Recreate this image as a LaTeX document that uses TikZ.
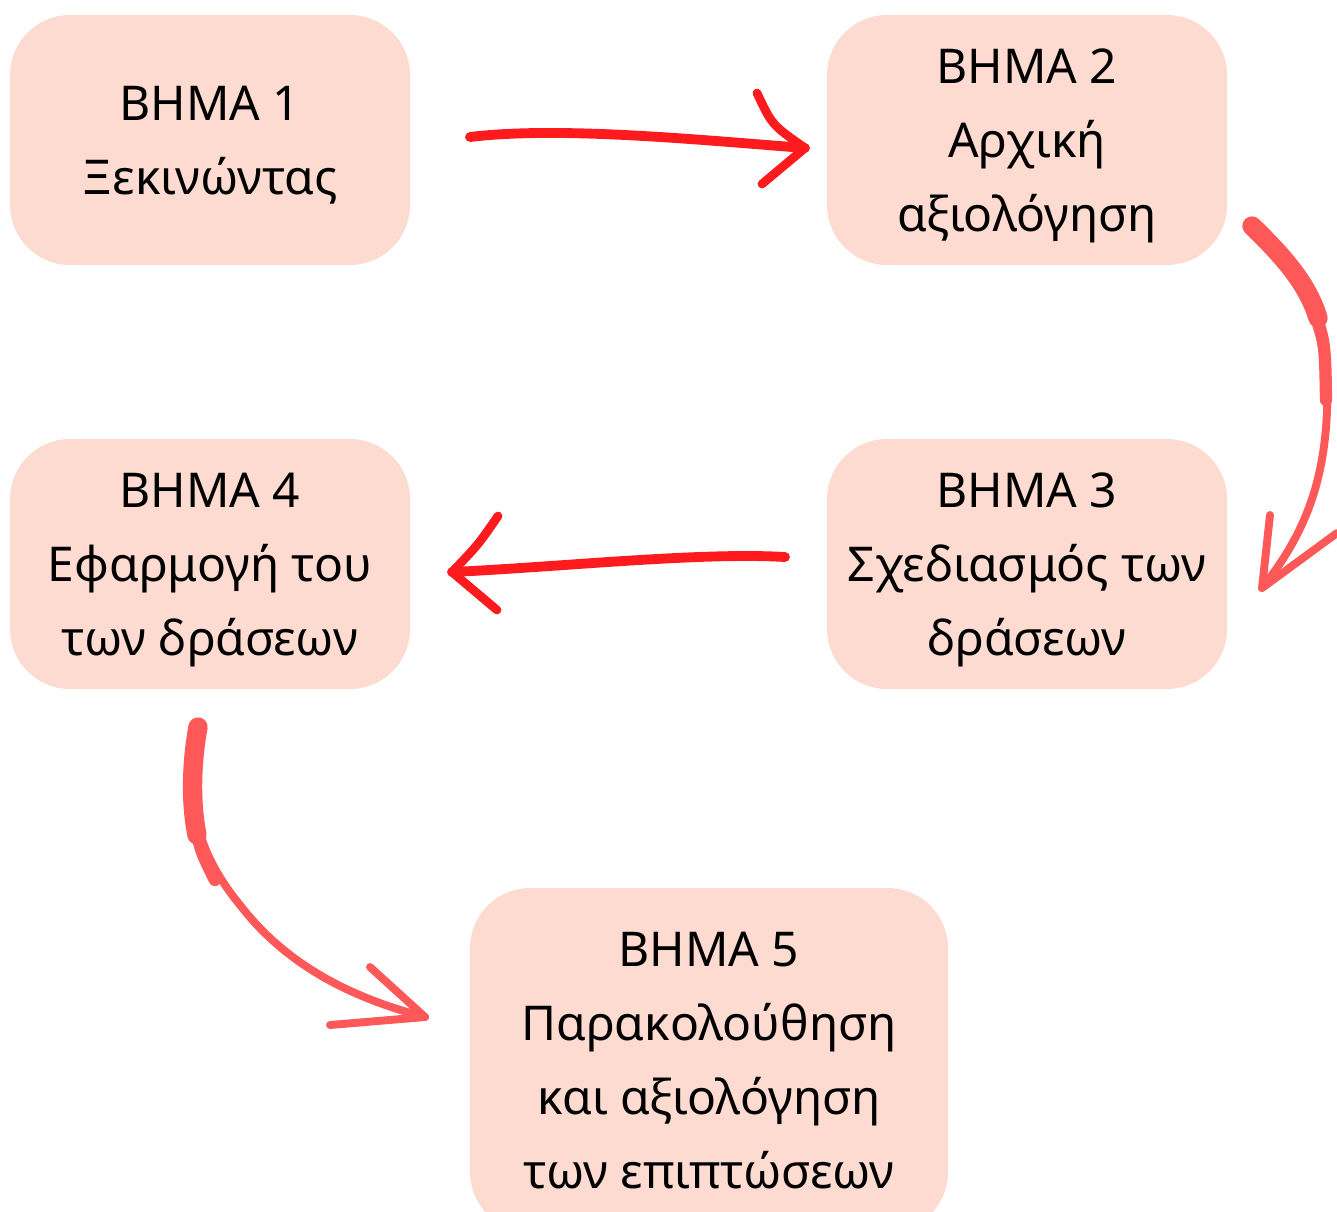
\documentclass[tikz,border=0pt]{standalone}
\usepackage{fontspec}
\setmainfont{Noto Sans}
\usetikzlibrary{positioning}
\definecolor{boxcolour}{RGB}{253,219,208}
\definecolor{inkred}{RGB}{255,26,30}
\definecolor{inkcoral}{RGB}{255,88,88}
\newcommand\boxfont{\fontsize{27.3}{42.1}\selectfont}
\newcommand\brushwd{5.6pt}
\newcommand\headwd{5pt}
\tikzstyle{stepbox} = [fill=boxcolour, rounded corners=1.2cm, align=center, text depth=0pt,
  minimum width=8cm, minimum height=5cm, inner sep=0pt, font=\boxfont]
\tikzstyle{brush}   = [line width=\brushwd, line cap=round, line join=round]
\tikzstyle{brushhead} = [line width=\headwd, line cap=round, line join=round]

\begin{document}
\begin{tikzpicture}[x=0.02cm, y=-0.02cm]
    \useasboundingbox (0,0) rectangle (1337,1211);
    \draw (210,140) node[stepbox] (step1) {ΒΗΜΑ 1\\Ξεκινώντας};
    \draw (1027,140) node[stepbox] (step2) {ΒΗΜΑ 2\\Αρχική\\αξιολόγηση};
    \draw (1027,564) node[stepbox] (step3) {ΒΗΜΑ 3\\Σχεδιασμός των\\δράσεων};
    \draw (210,564) node[stepbox] (step4) {ΒΗΜΑ 4\\Εφαρμογή του\\των δράσεων};
    \draw (709,1060) node[stepbox, minimum width=9.56cm, minimum height=6.88cm] (step5)
      {ΒΗΜΑ 5\\Παρακολούθηση\\και αξιολόγηση\\των επιπτώσεων};
    \coordinate (from1) at (470,137);
    \coordinate (to2) at (805,148);
    \coordinate (from2) at (1252,226);
    \coordinate (to3) at (1262,588);
    \coordinate (from3) at (785,557);
    \coordinate (to4) at (452,572);
    \coordinate (from4) at (198,727);
    \coordinate (to5) at (425,1017);
    \draw[brush, color=inkred] (from1) .. controls (560,126) and (700,140) .. (to2);
    \draw[brushhead, color=inkred] (757,93) .. controls (772,125) .. (to2) -- (762,184);
    \draw[brush, color=inkred] (from3) .. controls (700,552) and (560,567) .. (to4);
    \draw[brushhead, color=inkred] (498,516) .. controls (478,545) .. (to4) -- (497,610);
    \draw[brush, color=inkcoral, line width=4.5pt] (from2) .. controls (1300,270) and (1330,330) .. (1327,410)
      .. controls (1324,490) and (1300,540) .. (to3);
    \draw[brush, color=inkcoral, line width=11pt] (from2) .. controls (1285,258) and (1308,285) .. (1318,318);
    \draw[brush, color=inkcoral, line width=7pt] (1310,300) .. controls (1325,340) .. (1326,400);
    \draw[brushhead, color=inkcoral, line width=4.5pt] (1270,515) -- (to3) -- (1337,533);
    \draw[brush, color=inkcoral, line width=4.5pt] (from4) .. controls (185,800) and (195,850) .. (240,905)
      .. controls (290,970) and (360,1000) .. (to5);
    \draw[brush, color=inkcoral, line width=11pt] (from4) .. controls (192,760) and (190,800) .. (197,835);
    \draw[brush, color=inkcoral, line width=7pt] (195,820) .. controls (200,850) .. (215,880);
    \draw[brushhead, color=inkcoral, line width=4.5pt] (370,967) -- (to5) -- (330,1025);
\end{tikzpicture}
\end{document}
